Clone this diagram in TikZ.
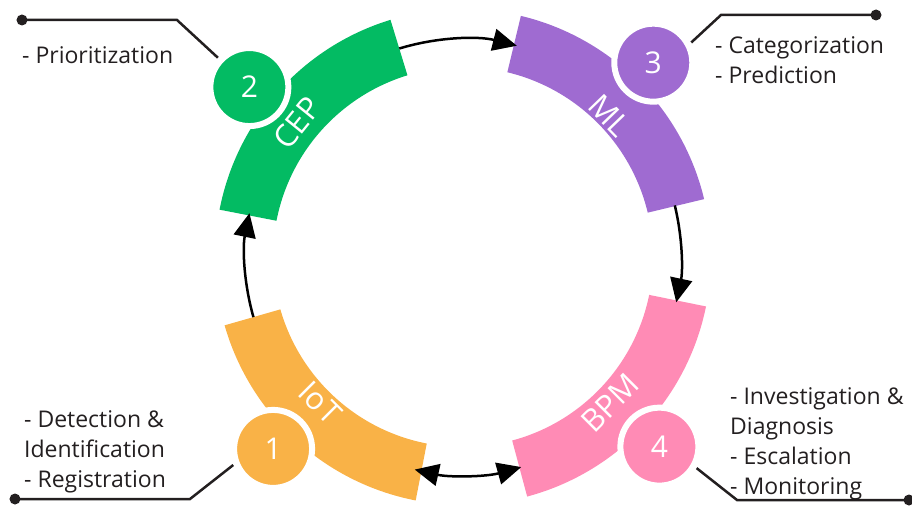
\documentclass[tikz,border=0pt]{standalone}
\usepackage{fontspec}
\setmainfont{Open Sans}
\usepackage{xcolor}
\usepackage{tikz}
\usetikzlibrary{arrows.meta,positioning,calc}
\definecolor{cepgreen}{RGB}{3,187,99}
\definecolor{mlpurple}{RGB}{159,107,209}
\definecolor{bpmpink}{RGB}{255,139,181}
\definecolor{iotorange}{RGB}{249,178,71}
\definecolor{ink}{RGB}{35,31,32}
\tikzset{
  numcircle/.style={circle, draw=white, line width=6pt, minimum size=78pt, inner sep=0pt, outer sep=4pt, text=white, font=\fontsize{30}{30}\selectfont},
  bandlabel/.style={text=white, inner sep=0pt, font=\fontsize{31}{31}\selectfont},
  dot/.style={circle, fill=ink, minimum size=11pt, inner sep=0pt},
  callout/.style={draw=ink, line width=2.5pt},
  note/.style={anchor=west, align=left, inner sep=0pt, text=ink, font=\fontsize{23}{30}\selectfont},
  arrow/.style={-{Triangle[length=24pt,width=22pt]}, line width=2.5pt},
  biarrow/.style={{Triangle[length=24pt,width=22pt]}-{Triangle[length=24pt,width=22pt]}, line width=2.5pt},
}

\begin{document}
\begin{tikzpicture}[x=1pt,y=1pt]
  \useasboundingbox (-463,-252) rectangle (449,257);

  % Stage bands - four pieces of a ring round the centre
  \foreach \a/\b/\col in {107/169/cepgreen, 13.5/76.5/mlpurple, -75/-11.5/bpmpink, 196/259/iotorange} {
    \fill[\col] (\a:248) arc[start angle=\a, end angle=\b, radius=248]
      -- (\b:190) arc[start angle=\b, end angle=\a, radius=190] -- cycle;
  }

  % Band ends for the cycle arrows
  \coordinate (cep-end) at (107:218);
  \coordinate (ml-end) at (13.7:218);
  \coordinate (bpm-end) at (-74.5:218);
  \coordinate (iot-end) at (196:218);

  % Cycle arrows - on the middle of the ring
  \draw[arrow] (cep-end) arc[start angle=107, end angle=75.7, radius=218];
  \draw[arrow] (ml-end) arc[start angle=13.7, end angle=-12, radius=218];
  \draw[biarrow] (bpm-end) arc[start angle=-74.5, end angle=-102.8, radius=218];
  \draw[arrow] (iot-end) arc[start angle=196, end angle=168.4, radius=218];

  % Band labels
  \node[bandlabel, rotate=51] (cep) at (141:213) {CEP};
  \node[bandlabel, rotate=-46] (ml) at (44:204) {ML};
  \node[bandlabel, rotate=45] (bpm) at (-44.8:207) {BPM};
  \node[bandlabel, rotate=-45] (iot) at (225.6:204) {IoT};

  % Step numbers - cut into the outer edge
  \node[numcircle, fill=iotorange] (n1) at (225.3:270) {1};
  \node[numcircle, fill=cepgreen] (n2) at (141.5:273) {2};
  \node[numcircle, fill=mlpurple] (n3) at (45.6:272) {3};
  \node[numcircle, fill=bpmpink] (n4) at (-44:273) {4};

  % Callouts - dot, flat run, slant to the number
  \node[dot] (d1) at (-448,-242) {};
  \node[dot] (d2) at (-441,237) {};
  \node[dot] (d3) at (413,242) {};
  \node[dot] (d4) at (446,-243) {};
  \coordinate (k1) at (-273,-242);
  \coordinate (k2) at (-286,237);
  \coordinate (k3) at (258,242);
  \coordinate (k4) at (274,-243);
  \draw[callout] (d1.center) -- (k1) -- (n1.202);
  \draw[callout] (d2.center) -- (k2) -- (n2.137);
  \draw[callout] (d3.center) -- (k3) -- (n3.28);
  \draw[callout] (d4.center) -- (k4) -- (n4.-30);

  % Notes
  \node[note] (t1) at (-439,-195) {- Detection \&\\Identification\\- Registration};
  \node[note] (t2) at (-441,202) {- Prioritization};
  \node[note] (t3) at (252,197) {- Categorization\\- Prediction};
  \node[note] (t4) at (267,-187) {- Investigation \&\\Diagnosis\\- Escalation\\- Monitoring};

\end{tikzpicture}
\end{document}
